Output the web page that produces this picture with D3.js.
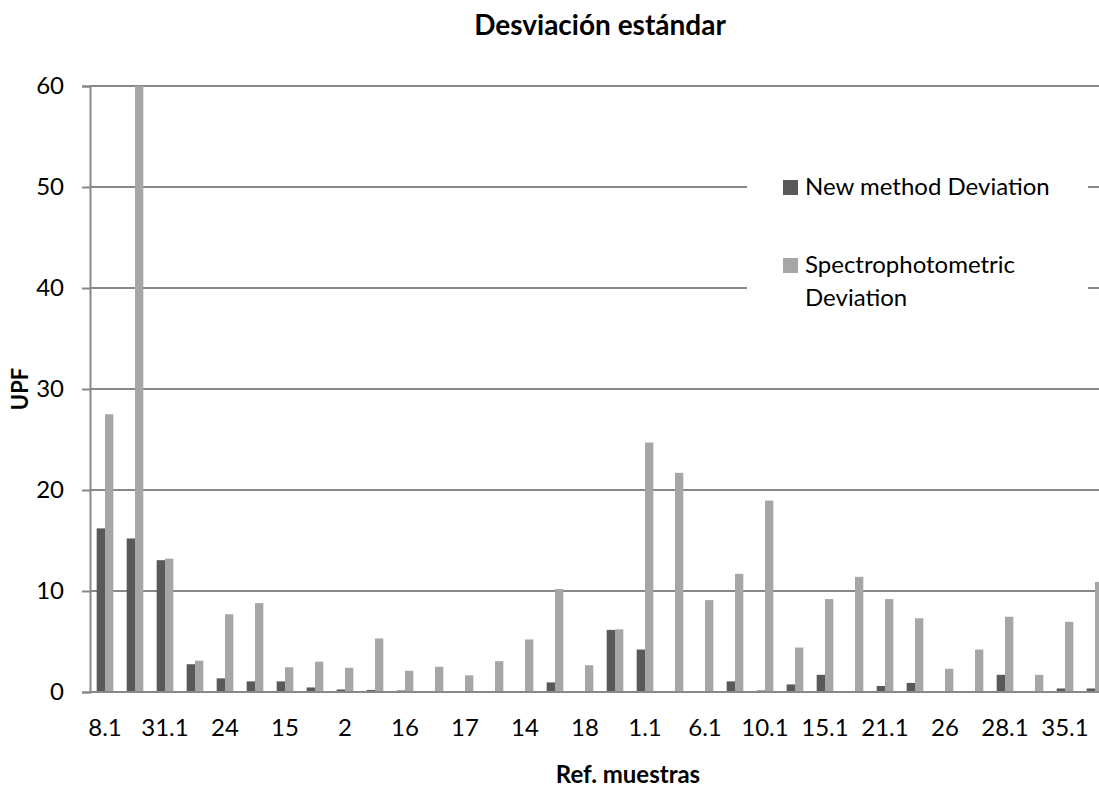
<!DOCTYPE html>
<html>
<head>
<meta charset="utf-8">
<script src="https://cdn.jsdelivr.net/npm/d3@7"></script>
<style>
  body { margin: 0; background: #fff; }
  text { font-family: Lato, "Open Sans", sans-serif; fill: #000; }
</style>
</head>
<body>
<div id="chart"></div>
<script>
// values (UPF)
const seriesNames = ["New method Deviation", "Spectrophotometric Deviation"];
const newMethod = [16.2, 15.2, 13.05, 2.75, 1.35, 1.05, 1.05, 0.45, 0.25, 0.2, 0.15, 0, 0, 0, 0, 0.95, 0,
  6.15, 4.2, 0, 0, 1.05, 0.15, 0.75, 1.7, 0, 0.6, 0.9, 0, 0, 1.7, 0, 0.35, 0.35];
const spectro = [27.5, 60, 13.2, 3.1, 7.7, 8.8, 2.45, 3.0, 2.4, 5.3, 2.1, 2.5, 1.65, 3.05, 5.2, 10.2, 2.65,
  6.2, 24.7, 21.7, 9.1, 11.7, 18.95, 4.4, 9.2, 11.4, 9.2, 7.3, 2.3, 4.2, 7.45, 1.7, 6.95, 10.9];
// only every other category is labelled on the axis
const tickLabels = ["8.1", "31.1", "24", "15", "2", "16", "17", "14", "18", "1.1",
  "6.1", "10.1", "15.1", "21.1", "26", "28.1", "35.1"];
const yTicks = [0, 10, 20, 30, 40, 50, 60];

const width = 1099, height = 787;
const colors = ["#595959", "#a6a6a6"];
const gridColor = "#888888";

const svg = d3.select("#chart").append("svg")
    .attr("width", width)
    .attr("height", height);

// plot area runs past the right edge of the picture
const plotLeft = 90, plotRight = 1110, plotTop = 86, plotBottom = 692;

const cats = d3.range(newMethod.length);
const x0 = d3.scaleBand()
    .domain(cats)
    .range([plotLeft, plotRight])
    .paddingInner(0.445)
    .paddingOuter(0.2225);
const x1 = d3.scaleBand()
    .domain([0, 1])
    .range([0, x0.bandwidth()]);
const y = d3.scaleLinear()
    .domain([0, 60])
    .range([plotBottom, plotTop]);

// gridlines
svg.append("g")
  .selectAll("line")
  .data(yTicks.filter(d => d > 0))
  .join("line")
    .attr("x1", plotLeft).attr("x2", plotRight)
    .attr("y1", d => y(d)).attr("y2", d => y(d))
    .attr("stroke", gridColor)
    .attr("stroke-width", 2);

// bars
const rows = cats.map(i => [newMethod[i], spectro[i]]);
svg.append("g")
  .selectAll("g")
  .data(rows)
  .join("g")
    .attr("transform", (d, i) => `translate(${x0(i)},0)`)
  .selectAll("rect")
  .data(d => d.map((v, k) => ({ v, k })))
  .join("rect")
    .attr("x", d => x1(d.k))
    .attr("width", x1.bandwidth())
    .attr("y", d => y(d.v))
    .attr("height", d => y(0) - y(d.v))
    .attr("fill", d => colors[d.k]);

// y axis
const yAxis = svg.append("g")
    .attr("transform", `translate(${plotLeft},0)`)
    .call(d3.axisLeft(y).tickValues(yTicks).tickSize(8).tickPadding(18));
yAxis.select(".domain").attr("stroke", gridColor).attr("stroke-width", 2);
yAxis.selectAll(".tick line").attr("stroke", gridColor).attr("stroke-width", 2);
yAxis.selectAll(".tick text")
    .style("font-family", "Lato, sans-serif")
    .style("font-size", "24px")
    .attr("fill", "#000");

// x axis
const xAxis = svg.append("g")
    .attr("transform", `translate(0,${plotBottom})`)
    .call(d3.axisBottom(x0)
      .tickValues(cats.filter(i => i % 2 === 0))
      .tickFormat(i => tickLabels[i / 2])
      .tickSize(0)
      .tickPadding(27));
xAxis.select(".domain").attr("stroke", gridColor).attr("stroke-width", 2)
    .attr("d", `M${plotLeft},0H${plotRight}`);
xAxis.selectAll(".tick text")
    .style("font-family", "Lato, sans-serif")
    .style("font-size", "24px")
    .attr("fill", "#000");

// titles
svg.append("text")
    .attr("x", 600).attr("y", 35)
    .attr("text-anchor", "middle")
    .style("font-size", "28px")
    .style("font-weight", "bold")
    .text("Desviación estándar");

svg.append("text")
    .attr("x", 628).attr("y", 783)
    .attr("text-anchor", "middle")
    .style("font-size", "24px")
    .style("font-weight", "bold")
    .text("Ref. muestras");

svg.append("text")
    .attr("transform", `translate(28,${(plotTop + plotBottom) / 2}) rotate(-90)`)
    .attr("text-anchor", "middle")
    .style("font-size", "22px")
    .style("font-weight", "bold")
    .text("UPF");

// legend
const legend = svg.append("g");
legend.append("rect")
    .attr("x", 747).attr("y", 160)
    .attr("width", 341).attr("height", 165)
    .attr("fill", "#fff");
const legendLines = [["New method Deviation"], ["Spectrophotometric", "Deviation"]];
const legendY = [195, 273];
legendLines.forEach((lines, k) => {
  legend.append("rect")
      .attr("x", 783).attr("y", legendY[k] - 15)
      .attr("width", 15).attr("height", 15)
      .attr("fill", colors[k]);
  const t = legend.append("text")
      .attr("x", 805).attr("y", legendY[k])
      .style("font-size", "24px");
  lines.forEach((s, j) => {
    t.append("tspan").attr("x", 805).attr("dy", j === 0 ? 0 : 33).text(s);
  });
});
</script>
</body>
</html>
